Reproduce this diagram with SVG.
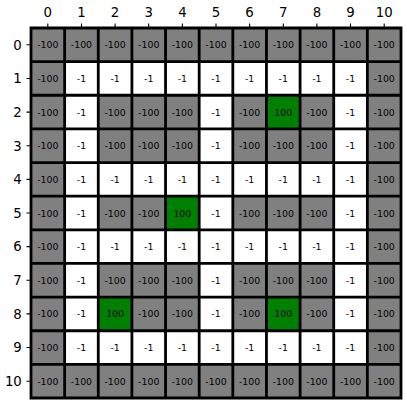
<svg xmlns="http://www.w3.org/2000/svg" width="407" height="406" viewBox="0 0 407 406">
<style>
.v{font-family:"DejaVu Sans",sans-serif;font-size:9.4px;text-anchor:middle;fill:#000}
.ax{font-family:"DejaVu Sans",sans-serif;font-size:13.3px;fill:#000}
.t{stroke:#000;stroke-width:1.1}
.w{fill:#fff}
.gr{fill:#008000}
</style>
<rect width="407" height="406" fill="#fff"/>
<g id="axes">
<g class="ax" text-anchor="middle">
<text x="47.8" y="16.8">0</text><text x="81.5" y="16.8">1</text><text x="115.1" y="16.8">2</text><text x="148.7" y="16.8">3</text><text x="182.4" y="16.8">4</text><text x="216" y="16.8">5</text><text x="249.6" y="16.8">6</text><text x="283.3" y="16.8">7</text><text x="316.9" y="16.8">8</text><text x="350.5" y="16.8">9</text><text x="384.2" y="16.8">10</text>
</g>
<g class="ax" text-anchor="end">
<text x="21.8" y="49.6">0</text><text x="21.8" y="83.2">1</text><text x="21.8" y="116.9">2</text><text x="21.8" y="150.5">3</text><text x="21.8" y="184.1">4</text><text x="21.8" y="217.8">5</text><text x="21.8" y="251.4">6</text><text x="21.8" y="285.1">7</text><text x="21.8" y="318.7">8</text><text x="21.8" y="352.3">9</text><text x="21.8" y="386">10</text>
</g>
<path class="t" d="M47.8 23.5V28M81.5 23.5V28M115.1 23.5V28M148.7 23.5V28M182.4 23.5V28M216 23.5V28M249.6 23.5V28M283.3 23.5V28M316.9 23.5V28M350.5 23.5V28M384.2 23.5V28M26.5 44.8H31M26.5 78.5H31M26.5 112.1H31M26.5 145.7H31M26.5 179.4H31M26.5 213H31M26.5 246.6H31M26.5 280.3H31M26.5 313.9H31M26.5 347.5H31M26.5 381.2H31"/>
</g>
<g id="grid" transform="translate(31,28)">
<rect width="370" height="370" fill="#808080"/>
<rect class="w" x="33.64" y="33.64" width="302.73" height="33.64"/>
<rect class="w" x="33.64" y="134.55" width="302.73" height="33.64"/>
<rect class="w" x="33.64" y="201.82" width="302.73" height="33.64"/>
<rect class="w" x="33.64" y="302.73" width="302.73" height="33.64"/>
<rect class="w" x="33.64" y="33.64" width="33.64" height="302.73"/>
<rect class="w" x="168.18" y="33.64" width="33.64" height="302.73"/>
<rect class="w" x="302.73" y="33.64" width="33.64" height="302.73"/>
<rect class="gr" x="235.45" y="67.27" width="33.64" height="33.64"/>
<rect class="gr" x="134.55" y="168.18" width="33.64" height="33.64"/>
<rect class="gr" x="67.27" y="269.09" width="33.64" height="33.64"/>
<rect class="gr" x="235.45" y="269.09" width="33.64" height="33.64"/>
<path stroke="#000" stroke-width="2.8" fill="none" stroke-linecap="square" d="M0 0V370M33.64 0V370M67.27 0V370M100.91 0V370M134.55 0V370M168.18 0V370M201.82 0V370M235.45 0V370M269.09 0V370M302.73 0V370M336.36 0V370M370 0V370M0 0H370M0 33.64H370M0 67.27H370M0 100.91H370M0 134.55H370M0 168.18H370M0 201.82H370M0 235.45H370M0 269.09H370M0 302.73H370M0 336.36H370M0 370H370"/>
<g class="v">
<text x="16.82" y="20.3">-100</text><text x="50.45" y="20.3">-100</text><text x="84.09" y="20.3">-100</text><text x="117.73" y="20.3">-100</text><text x="151.36" y="20.3">-100</text><text x="185" y="20.3">-100</text><text x="218.64" y="20.3">-100</text><text x="252.27" y="20.3">-100</text><text x="285.91" y="20.3">-100</text><text x="319.55" y="20.3">-100</text><text x="353.18" y="20.3">-100</text>
<text x="16.82" y="53.95">-100</text><text x="50.45" y="53.95">-1</text><text x="84.09" y="53.95">-1</text><text x="117.73" y="53.95">-1</text><text x="151.36" y="53.95">-1</text><text x="185" y="53.95">-1</text><text x="218.64" y="53.95">-1</text><text x="252.27" y="53.95">-1</text><text x="285.91" y="53.95">-1</text><text x="319.55" y="53.95">-1</text><text x="353.18" y="53.95">-100</text>
<text x="16.82" y="87.6">-100</text><text x="50.45" y="87.6">-1</text><text x="84.09" y="87.6">-100</text><text x="117.73" y="87.6">-100</text><text x="151.36" y="87.6">-100</text><text x="185" y="87.6">-1</text><text x="218.64" y="87.6">-100</text><text x="252.27" y="87.6">100</text><text x="285.91" y="87.6">-100</text><text x="319.55" y="87.6">-1</text><text x="353.18" y="87.6">-100</text>
<text x="16.82" y="121.2">-100</text><text x="50.45" y="121.2">-1</text><text x="84.09" y="121.2">-100</text><text x="117.73" y="121.2">-100</text><text x="151.36" y="121.2">-100</text><text x="185" y="121.2">-1</text><text x="218.64" y="121.2">-100</text><text x="252.27" y="121.2">-100</text><text x="285.91" y="121.2">-100</text><text x="319.55" y="121.2">-1</text><text x="353.18" y="121.2">-100</text>
<text x="16.82" y="154.85">-100</text><text x="50.45" y="154.85">-1</text><text x="84.09" y="154.85">-1</text><text x="117.73" y="154.85">-1</text><text x="151.36" y="154.85">-1</text><text x="185" y="154.85">-1</text><text x="218.64" y="154.85">-1</text><text x="252.27" y="154.85">-1</text><text x="285.91" y="154.85">-1</text><text x="319.55" y="154.85">-1</text><text x="353.18" y="154.85">-100</text>
<text x="16.82" y="188.5">-100</text><text x="50.45" y="188.5">-1</text><text x="84.09" y="188.5">-100</text><text x="117.73" y="188.5">-100</text><text x="151.36" y="188.5">100</text><text x="185" y="188.5">-1</text><text x="218.64" y="188.5">-100</text><text x="252.27" y="188.5">-100</text><text x="285.91" y="188.5">-100</text><text x="319.55" y="188.5">-1</text><text x="353.18" y="188.5">-100</text>
<text x="16.82" y="222.1">-100</text><text x="50.45" y="222.1">-1</text><text x="84.09" y="222.1">-1</text><text x="117.73" y="222.1">-1</text><text x="151.36" y="222.1">-1</text><text x="185" y="222.1">-1</text><text x="218.64" y="222.1">-1</text><text x="252.27" y="222.1">-1</text><text x="285.91" y="222.1">-1</text><text x="319.55" y="222.1">-1</text><text x="353.18" y="222.1">-100</text>
<text x="16.82" y="255.75">-100</text><text x="50.45" y="255.75">-1</text><text x="84.09" y="255.75">-100</text><text x="117.73" y="255.75">-100</text><text x="151.36" y="255.75">-100</text><text x="185" y="255.75">-1</text><text x="218.64" y="255.75">-100</text><text x="252.27" y="255.75">-100</text><text x="285.91" y="255.75">-100</text><text x="319.55" y="255.75">-1</text><text x="353.18" y="255.75">-100</text>
<text x="16.82" y="289.4">-100</text><text x="50.45" y="289.4">-1</text><text x="84.09" y="289.4">100</text><text x="117.73" y="289.4">-100</text><text x="151.36" y="289.4">-100</text><text x="185" y="289.4">-1</text><text x="218.64" y="289.4">-100</text><text x="252.27" y="289.4">100</text><text x="285.91" y="289.4">-100</text><text x="319.55" y="289.4">-1</text><text x="353.18" y="289.4">-100</text>
<text x="16.82" y="323">-100</text><text x="50.45" y="323">-1</text><text x="84.09" y="323">-1</text><text x="117.73" y="323">-1</text><text x="151.36" y="323">-1</text><text x="185" y="323">-1</text><text x="218.64" y="323">-1</text><text x="252.27" y="323">-1</text><text x="285.91" y="323">-1</text><text x="319.55" y="323">-1</text><text x="353.18" y="323">-100</text>
<text x="16.82" y="356.65">-100</text><text x="50.45" y="356.65">-100</text><text x="84.09" y="356.65">-100</text><text x="117.73" y="356.65">-100</text><text x="151.36" y="356.65">-100</text><text x="185" y="356.65">-100</text><text x="218.64" y="356.65">-100</text><text x="252.27" y="356.65">-100</text><text x="285.91" y="356.65">-100</text><text x="319.55" y="356.65">-100</text><text x="353.18" y="356.65">-100</text>
</g>
</g>
</svg>
